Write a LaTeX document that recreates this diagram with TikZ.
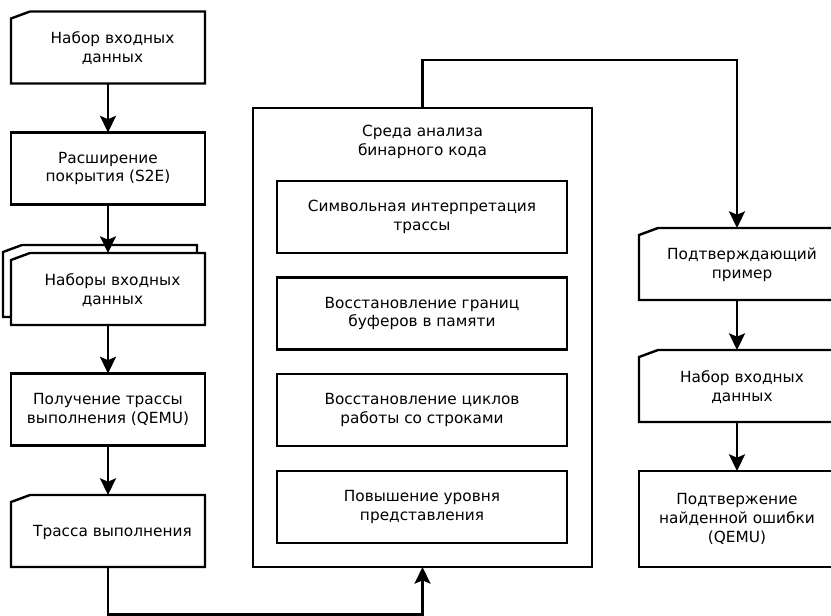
\documentclass[tikz,border=0pt]{standalone}
\usepackage{fontspec}
\setmainfont{DejaVu Sans}
\usetikzlibrary{arrows.meta,calc}
\newcommand\cardoutline[1]{%
  \draw[line, fill=white] ([yshift=-7*0.75pt]#1.north west) -- ([xshift=19*0.75pt]#1.north west)
    -- (#1.north east) -- (#1.south east) -- (#1.south west) -- cycle;}
\begin{document}
\begin{tikzpicture}[x=0.75pt,y=-0.75pt,
  line/.style={line width=1.8pt, line join=miter},
  txt/.style={font=\fontsize{11.5}{14.2}\selectfont, align=center, inner sep=0pt},
  box/.style={line, draw, fill=white, txt, outer sep=0pt, minimum width=194*0.75pt, minimum height=72*0.75pt},
  cardbox/.style={txt, outer sep=0pt, minimum width=194*0.75pt, minimum height=72*0.75pt},
  inner/.style={box, minimum width=290*0.75pt},
  arr/.style={line, -{Stealth[length=12.5pt,width=12pt,inset=2.5pt]}}]
\useasboundingbox (0,0) rectangle (831,615);
\clip (0,0) rectangle (831,615);
\fill[white] (0,0) rectangle (831,615);

% left column
\node[cardbox] (in1) at (108,47.5) {};
\cardoutline{in1}
\node[txt] (in1t) at (112.5,48.5) {Набор входных\\данных};

\node[box] (s2e) at (108,168.5) {Расширение\\покрытия (S2E)};

\node[cardbox] (setsback) at (100,281) {};
\cardoutline{setsback}
\node[cardbox] (sets) at (108,289) {};
\cardoutline{sets}
\node[txt] (setst) at (112.5,290) {Наборы входных\\данных};

\node[box] (qemu) at (108,409.5) {Получение трассы\\выполнения (QEMU)};

\node[cardbox] (trace) at (108,531) {};
\cardoutline{trace}
\node[txt] (tracet) at (112.5,532) {Трасса выполнения};

% container
\node[line, draw, outer sep=0pt, minimum width=339*0.75pt, minimum height=459*0.75pt] (env) at (422.5,337.5) {};
\node[txt] (envt) at (422.5,142) {Среда анализа\\бинарного кода};
\node[inner] (sym) at (422,217) {Символьная интерпретация\\трассы};
\node[inner] (buf) at (422,313.5) {Восстановление границ\\буферов в памяти};
\node[inner] (loop) at (422,410) {Восстановление циклов\\работы со строками};
\node[inner] (lift) at (422,507) {Повышение уровня\\представления};

% right column
\node[cardbox, minimum width=196*0.75pt] (conf) at (737,264) {};
\cardoutline{conf}
\node[txt] (conft) at (742,265) {Подтверждающий\\пример};

\node[cardbox, minimum width=196*0.75pt] (in2) at (737,386) {};
\cardoutline{in2}
\node[txt] (in2t) at (742,387) {Набор входных\\данных};

\node[box, minimum width=196*0.75pt, minimum height=96*0.75pt] (chk) at (737,519) {Подтвержение\\найденной ошибки\\(QEMU)};

% connectors
\draw[arr] (in1.south) -- (s2e.north);
\draw[arr] (s2e.south) -- (sets.north);
\draw[arr] (sets.south) -- (qemu.north);
\draw[arr] (qemu.south) -- (trace.north);
\draw[arr] (trace.south) -- ++(0,47.5) -| (env.south);
\draw[arr] (env.north) -- ++(0,-48) -| (conf.north);
\draw[arr] (conf.south) -- (in2.north);
\draw[arr] (in2.south) -- (chk.north);
\end{tikzpicture}
\end{document}
